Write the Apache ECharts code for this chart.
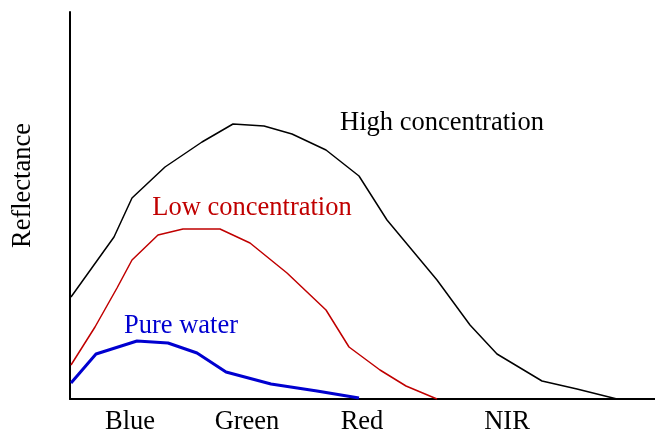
<!DOCTYPE html>
<html>
<head>
<meta charset="utf-8">
<style>
  html, body { margin: 0; padding: 0; background: #fff; }
  #chart { width: 655px; height: 432px; }
</style>
<script src="https://cdn.jsdelivr.net/npm/echarts@6/dist/echarts.min.js"></script>
</head>
<body>
<div id="chart"></div>
<script>
/** band labels on the x axis and where they sit */
let bandNames = ['Blue', 'Green', 'Red', 'NIR'];
let bandPos = [60, 177, 292, 437];

/** reflectance curves, [x, reflectance] in plot units */
let highConc = [[1, 102], [44, 162], [62, 201], [95, 232], [132, 257], [163, 275], [194, 273], [222, 265],
  [256, 249], [289, 223], [317, 179], [367, 119], [400, 74], [427, 45], [472, 18], [507, 10], [547, 0]];
let lowConc = [[1, 34], [25, 72], [47, 111], [62, 139], [88, 164], [113, 170], [150, 170], [180, 156],
  [217, 126], [256, 89], [279, 52], [310, 29], [336, 13], [367, 0]];
let pureWater = [[1, 16], [26, 45], [67, 58], [98, 56], [127, 46], [156, 27], [201, 15], [247, 8], [289, 1]];

/** curve names and where their captions go */
let curveNames = ['High concentration', 'Low concentration', 'Pure water'];
let captionPos = [[372, 276], [182, 191], [111, 73]];
let curveColors = ['#000000', '#c00000', '#0000d0'];
let curveWidths = [1.5, 1.5, 3];

let font = "'Liberation Serif', 'DejaVu Serif', serif";

let chart = echarts.init(document.getElementById('chart'));
let curves = [highConc, lowConc, pureWater];

let option = {
  animation: false,
  grid: { left: 70, right: 0, top: 12, bottom: 33, outerBoundsMode: 'none', containLabel: false },
  xAxis: {
    type: 'value',
    min: 0,
    max: 585,
    splitLine: { show: false },
    axisTick: { show: false },
    axisLine: { show: true, lineStyle: { color: '#000', width: 2 } },
    axisLabel: {
      customValues: bandPos,
      formatter: function (v) { return bandNames[bandPos.indexOf(v)]; },
      color: '#000',
      fontFamily: font,
      fontSize: 26.5,
      margin: 10
    }
  },
  yAxis: {
    type: 'value',
    min: 0,
    max: 387,
    name: 'Reflectance',
    nameLocation: 'middle',
    nameRotate: 90,
    nameGap: 33,
    nameTextStyle: { color: '#000', fontFamily: font, fontSize: 26.5, padding: [0, 0, 0, 40] },
    splitLine: { show: false },
    axisTick: { show: false },
    axisLabel: { show: false },
    axisLine: { show: true, lineStyle: { color: '#000', width: 2 } }
  },
  series: [
    ...curves.map((data, i) => {
      return {
        name: curveNames[i],
        type: 'line',
        data: data,
        symbol: 'none',
        lineStyle: { color: curveColors[i], width: curveWidths[i] }
      };
    }),
    {
      type: 'scatter',
      symbolSize: 0,
      silent: true,
      itemStyle: { opacity: 1 },
      data: captionPos.map((p, i) => {
        return {
          value: p,
          label: {
            show: true,
            position: 'inside',
            formatter: curveNames[i],
            color: curveColors[i],
            fontFamily: font,
            fontSize: 26.5
          }
        };
      })
    }
  ]
};

chart.setOption(option);
</script>
</body>
</html>
